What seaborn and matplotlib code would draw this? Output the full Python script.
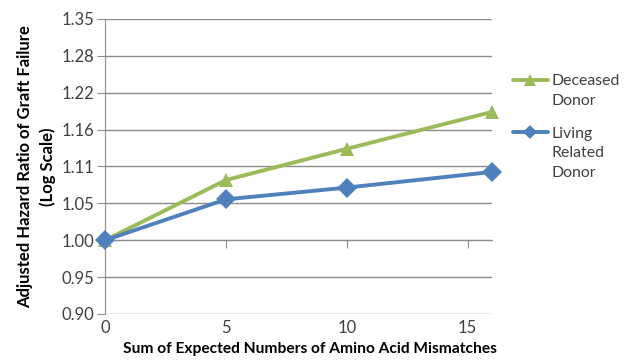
import numpy as np
import pandas as pd
import matplotlib
matplotlib.use('Agg')
import matplotlib.pyplot as plt
import seaborn as sns

# values
mismatches = [0, 5, 10, 16]
deceased = [1.00, 1.085, 1.132, 1.190]
living = [1.00, 1.057, 1.074, 1.097]
series_names = ['Deceased Donor', 'Living Related Donor']
legend_lines = [['Deceased', 'Donor'], ['Living', 'Related', 'Donor']]
y_ticks = [0.90, 0.95, 1.00, 1.05, 1.11, 1.16, 1.22, 1.28, 1.35]
x_ticks = [0, 5, 10, 15]

df = pd.DataFrame({
    'x': mismatches * 2,
    'hr': deceased + living,
    'donor': [series_names[0]] * 4 + [series_names[1]] * 4,
})

sns.set_style('white')
plt.rcParams['font.family'] = ['Lato', 'DejaVu Sans']

grid_col = '#8c8c8c'
text_col = '#404040'
palette = {series_names[0]: '#9bbb59', series_names[1]: '#4f81bd'}
markers = {series_names[0]: '^', series_names[1]: 'D'}

fig = plt.figure(figsize=(6.33, 3.62), dpi=100)
ax = fig.add_axes([0.166, 0.1326, 0.611, 0.815])

# log-spaced ticks: exp(k*0.05)
tick_pos = np.exp(np.arange(-2, 7) * 0.05)
ax.set_yscale('log')
ax.set_ylim(tick_pos[0], tick_pos[-1])
ax.set_xlim(0, 16)
for t in tick_pos:
    ax.axhline(t, color=grid_col, lw=1, zorder=0)

sns.lineplot(data=df, x='x', y='hr', hue='donor', style='donor',
             palette=palette, markers=markers, dashes=False,
             markersize=10, linewidth=2.8, markeredgewidth=0,
             ax=ax, legend=False, zorder=3, clip_on=False)

ax.set_yticks(tick_pos)
ax.set_yticklabels([f'{v:.2f}' for v in y_ticks])
ax.yaxis.set_minor_locator(matplotlib.ticker.NullLocator())
ax.tick_params(axis='y', length=6, color=grid_col, labelsize=12,
               labelcolor=text_col, direction='out', left=True, pad=2)

# horizontal axis crosses at 1.00, labels stay at the bottom
ax.spines['bottom'].set_position(('data', 1.0))
ax.spines['bottom'].set_color(grid_col)
ax.spines['left'].set_color(grid_col)
for s in ['top', 'right']:
    ax.spines[s].set_visible(False)
ax.set_xticks(x_ticks)
ax.tick_params(axis='x', length=6, color=grid_col, labelbottom=False,
               bottom=True, direction='out')

sec = ax.secondary_xaxis('bottom')
sec.set_xticks(x_ticks)
sec.tick_params(length=0, labelsize=12, labelcolor=text_col, pad=4)
sec.spines['bottom'].set_visible(False)
sec.set_xlabel('Sum of Expected Numbers of Amino Acid Mismatches',
               fontsize=11.2, fontweight='bold', color='black', labelpad=5)
sec.xaxis.label.set_x(0.53)

ax.set_xlabel('')
ax.set_ylabel('Adjusted Hazard Ratio of Graft Failure\n(Log Scale)',
              fontsize=12, fontweight='bold', color='black', labelpad=4,
              linespacing=1.45)

# one legend per series so the handle sits on the first text line
blank = plt.Line2D([], [], color='none')
anchors = [0.748, 0.577]
for name, lines, ya in zip(series_names, legend_lines, anchors):
    h = plt.Line2D([], [], color=palette[name], marker=markers[name], lw=2.8,
                   markersize=9 if markers[name] == '^' else 7,
                   markeredgewidth=0)
    leg = fig.legend([h] + [blank] * (len(lines) - 1), lines,
                     loc='center left', bbox_to_anchor=(0.810, ya),
                     frameon=False, fontsize=11.4, handlelength=2.2,
                     handletextpad=0.25, labelspacing=0.35, borderpad=0,
                     borderaxespad=0, labelcolor=text_col)

fig.savefig('out.png', dpi=100)
